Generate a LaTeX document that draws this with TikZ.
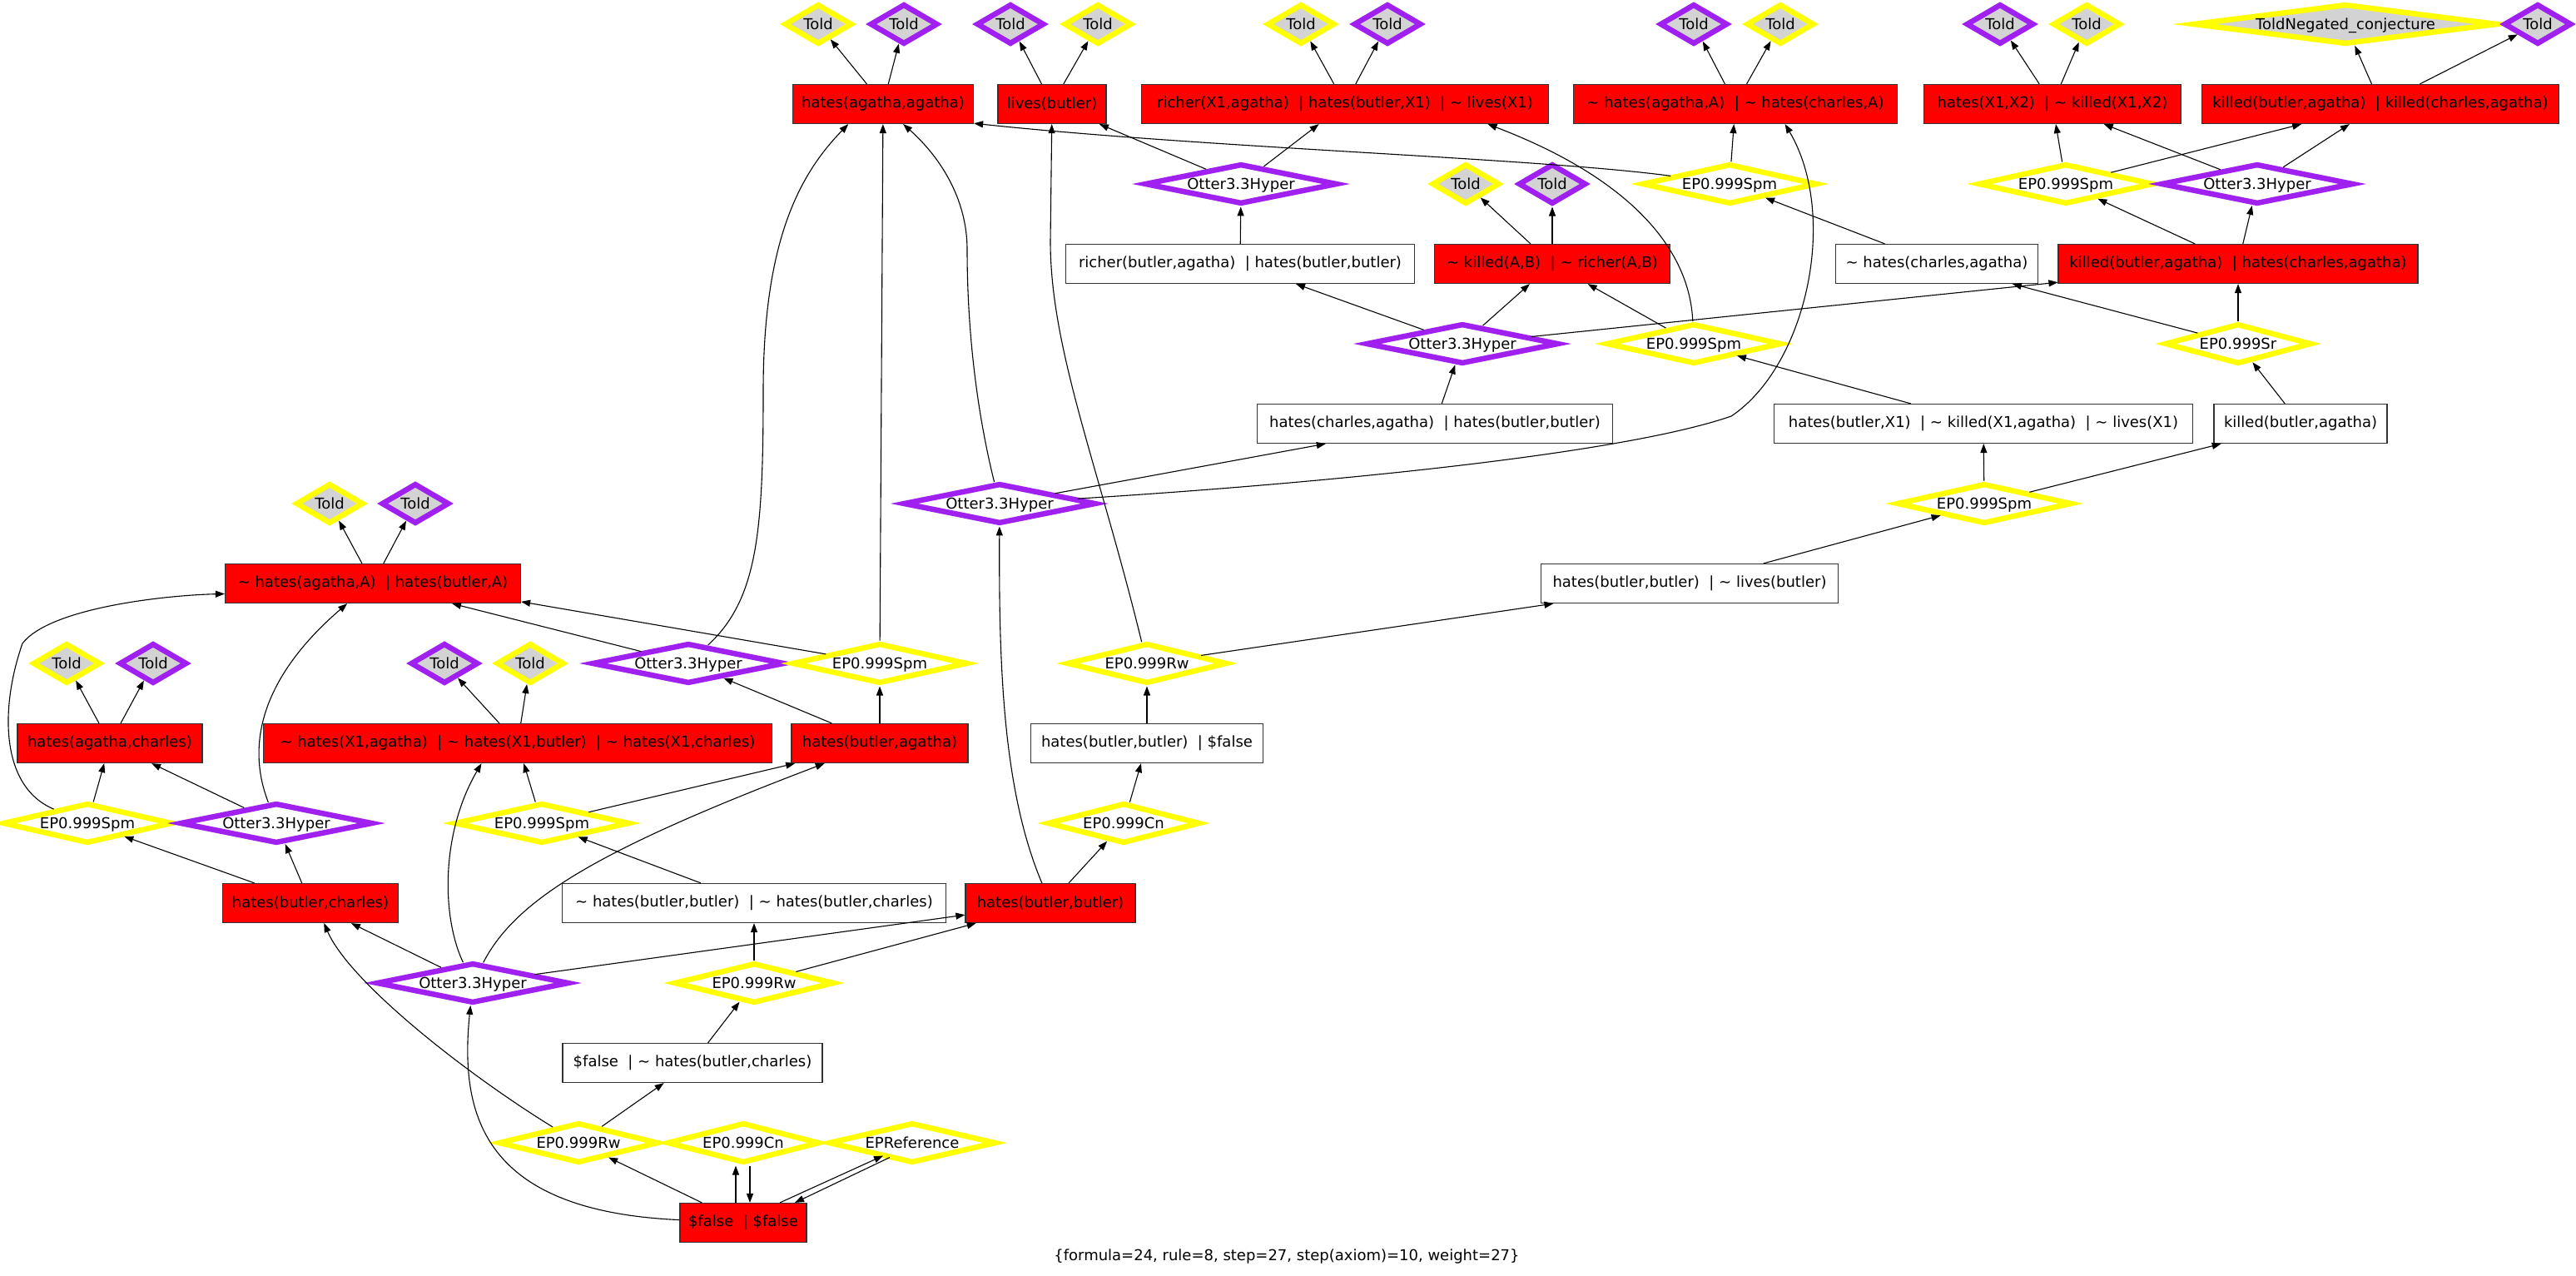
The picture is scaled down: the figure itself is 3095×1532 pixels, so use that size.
\documentclass[tikz,border=0pt]{standalone}
\usepackage{fontspec}
\setmainfont{DejaVu Sans}
\usetikzlibrary{shapes.geometric,arrows.meta}
\definecolor{gvred}{HTML}{FF0000}
\definecolor{gvyellow}{HTML}{FFFF00}
\definecolor{gvpurple}{HTML}{A020F0}
\definecolor{gvgray}{HTML}{D3D3D3}
\newcommand{\gvor}{\ \ |\ }
\newcommand{\gvnot}{\textasciitilde\ }
\newcommand{\dtext}[1]{\makebox[0pt]{\raisebox{-.36em}[0pt][0pt]{#1}}}
\begin{document}
\begin{tikzpicture}[x=1pt,y=-1pt,font=\fontsize{18}{21}\selectfont,
  box/.style={rectangle,draw=black!80,line width=1.2pt,minimum height=47pt,inner sep=0pt},
  rbox/.style={box,fill=gvred},
  wbox/.style={box,fill=white},
  dbase/.style={diamond,line width=6.5pt,minimum height=48.5pt,aspect=1,inner sep=0pt,fill=white},
  dY/.style={dbase,draw=gvyellow},
  dP/.style={dbase,draw=gvpurple},
  told/.style={fill=gvgray,minimum width=81.5pt},
  otter/.style={dP,minimum width=231.5pt},
  spm/.style={dY,minimum width=210.5pt},
  rw/.style={dY,minimum width=192.5pt},
  cn/.style={dY,minimum width=183.5pt},
  edge/.style={-{Triangle[length=11pt,width=8pt]},line width=1.1pt}
]
\useasboundingbox (0,0) rectangle (3095,1532);

% row 29
\node[dY,told] (T1) at (983,29) {\dtext{Told}};
\node[dP,told] (T2) at (1086,29) {\dtext{Told}};
\node[dP,told] (T3) at (1214,29) {\dtext{Told}};
\node[dY,told] (T4) at (1319,29) {\dtext{Told}};
\node[dY,told] (T5) at (1563,29) {\dtext{Told}};
\node[dP,told] (T6) at (1667,29) {\dtext{Told}};
\node[dP,told] (T7) at (2035,29) {\dtext{Told}};
\node[dY,told] (T8) at (2139,29) {\dtext{Told}};
\node[dP,told] (T9) at (2403,29) {\dtext{Told}};
\node[dY,told] (T10) at (2507,29) {\dtext{Told}};
\node[dY,fill=gvgray,minimum width=366pt] (TN) at (2818,29) {\dtext{ToldNegated\_conjecture}};
\node[dP,told] (T11) at (3049,29) {\dtext{Told}};

% row 125
\node[rbox,minimum width=217pt] (A1) at (1061,125) {hates(agatha,agatha)};
\node[rbox,minimum width=130pt] (A2) at (1264,125) {lives(butler)};
\node[rbox,minimum width=489pt] (A3) at (1616,125) {richer(X1,agatha)\gvor hates(butler,X1)\gvor\gvnot lives(X1)};
\node[rbox,minimum width=389pt] (A4) at (2085,125) {\gvnot hates(agatha,A)\gvor\gvnot hates(charles,A)};
\node[rbox,minimum width=309pt] (A5) at (2466,125) {hates(X1,X2)\gvor\gvnot killed(X1,X2)};
\node[rbox,minimum width=429pt] (A6) at (2860,125) {killed(butler,agatha)\gvor killed(charles,agatha)};

% row 221
\node[otter] (OA) at (1491,221) {\dtext{Otter3.3Hyper}};
\node[dY,told] (T12) at (1761,221) {\dtext{Told}};
\node[dP,told] (T13) at (1865,221) {\dtext{Told}};
\node[spm] (EC) at (2078,221) {\dtext{EP0.999Spm}};
\node[spm] (ED) at (2482,221) {\dtext{EP0.999Spm}};
\node[otter] (OE) at (2712,221) {\dtext{Otter3.3Hyper}};

% row 317
\node[wbox,minimum width=419pt] (B1) at (1490,317) {richer(butler,agatha)\gvor hates(butler,butler)};
\node[rbox,minimum width=283pt] (B2) at (1865,317) {\gvnot killed(A,B)\gvor\gvnot richer(A,B)};
\node[wbox,minimum width=243pt] (B3) at (2327,317) {\gvnot hates(charles,agatha)};
\node[rbox,minimum width=432pt] (B4) at (2689,317) {killed(butler,agatha)\gvor hates(charles,agatha)};

% row 413
\node[otter] (OB) at (1757,413) {\dtext{Otter3.3Hyper}};
\node[spm] (EF) at (2035,413) {\dtext{EP0.999Spm}};
\node[dY,minimum width=176.5pt] (ESr) at (2689,413) {\dtext{EP0.999Sr}};

% row 509
\node[wbox,minimum width=427pt] (C1) at (1724,509) {hates(charles,agatha)\gvor hates(butler,butler)};
\node[wbox,minimum width=503pt] (C2) at (2383,509) {hates(butler,X1)\gvor\gvnot killed(X1,agatha)\gvor\gvnot lives(X1)};
\node[wbox,minimum width=208pt] (C3) at (2764,509) {killed(butler,agatha)};

% row 605
\node[dY,told] (T14) at (396,605) {\dtext{Told}};
\node[dP,told] (T15) at (499,605) {\dtext{Told}};
\node[otter] (OG) at (1201,605) {\dtext{Otter3.3Hyper}};
\node[spm] (EK) at (2384,605) {\dtext{EP0.999Spm}};

% row 701
\node[rbox,minimum width=355pt] (D2) at (448,701) {\gvnot hates(agatha,A)\gvor hates(butler,A)};
\node[wbox,minimum width=357pt] (D1) at (2030,701) {hates(butler,butler)\gvor\gvnot lives(butler)};

% row 797
\node[dY,told] (T16) at (80,797) {\dtext{Told}};
\node[dP,told] (T17) at (184,797) {\dtext{Told}};
\node[dP,told] (T18) at (534,797) {\dtext{Told}};
\node[dY,told] (T19) at (637,797) {\dtext{Told}};
\node[otter] (OL) at (827,797) {\dtext{Otter3.3Hyper}};
\node[spm] (EH) at (1057,797) {\dtext{EP0.999Spm}};
\node[rw] (EI) at (1378,797) {\dtext{EP0.999Rw}};

% row 893
\node[rbox,minimum width=222pt] (D3) at (132,893) {hates(agatha,charles)};
\node[rbox,minimum width=611pt] (D4) at (622,893) {\gvnot hates(X1,agatha)\gvor\gvnot hates(X1,butler)\gvor\gvnot hates(X1,charles)};
\node[rbox,minimum width=212pt] (D5) at (1057,893) {hates(butler,agatha)};
\node[wbox,minimum width=279pt] (E1) at (1378,893) {hates(butler,butler)\gvor\$false};

% row 989
\node[dY,minimum width=203.5pt] (EM) at (105,989) {\dtext{EP0.999Spm}};
\node[otter] (ON) at (332,989) {\dtext{Otter3.3Hyper}};
\node[spm] (EO) at (651,989) {\dtext{EP0.999Spm}};
\node[cn] (EJ) at (1350,989) {\dtext{EP0.999Cn}};

% row 1085
\node[rbox,minimum width=211pt] (D6) at (373,1085) {hates(butler,charles)};
\node[wbox,minimum width=461pt] (D7) at (906,1085) {\gvnot hates(butler,butler)\gvor\gvnot hates(butler,charles)};
\node[rbox,minimum width=204pt] (F) at (1262,1085) {hates(butler,butler)};

% row 1181
\node[otter] (OP) at (568,1181) {\dtext{Otter3.3Hyper}};
\node[rw] (EQ) at (906,1181) {\dtext{EP0.999Rw}};

% row 1277
\node[wbox,minimum width=312pt] (G1) at (832,1277) {\$false\gvor\gvnot hates(butler,charles)};

% row 1373
\node[rw] (ER) at (695,1373) {\dtext{EP0.999Rw}};
\node[cn] (ES) at (893,1373) {\dtext{EP0.999Cn}};
\node[dY,minimum width=201.5pt] (ET) at (1096,1373) {\dtext{EPReference}};

% row 1469
\node[rbox,minimum width=152pt] (H1) at (893,1469) {\$false\gvor\$false};

\node (foot) at (1546,1510) {\{formula=24, rule=8, step=27, step(axiom)=10, weight=27\}};

% edges
\draw[edge] (A1) -- (T1);
\draw[edge] (A1) -- (T2);
\draw[edge] (A2) -- (T3);
\draw[edge] (A2) -- (T4);
\draw[edge] (A3) -- (T5);
\draw[edge] (A3) -- (T6);
\draw[edge] (A4) -- (T7);
\draw[edge] (A4) -- (T8);
\draw[edge] (A5) -- (T9);
\draw[edge] (A5) -- (T10);
\draw[edge] (A6) -- (TN);
\draw[edge] (A6) -- (T11);
\draw[edge] (OA) -- (A2);
\draw[edge] (OA) -- (A3);
\draw[edge] (B1) -- (OA);
\draw[edge] (B2) -- (T12);
\draw[edge] (B2) -- (T13);
\draw[edge] (EC) .. controls (1850,190) and (1450,178) .. (A1.-12);
\draw[edge] (EC) -- (A4);
\draw[edge] (B3) -- (EC);
\draw[edge] (ED) -- (A5);
\draw[edge] (ED) -- (A6);
\draw[edge] (OE) -- (A5);
\draw[edge] (OE) -- (A6);
\draw[edge] (B4) -- (ED);
\draw[edge] (B4) -- (OE);
\draw[edge] (OB) -- (B1);
\draw[edge] (OB) -- (B2);
\draw[edge] (OB) -- (B4);
\draw[edge] (EF) -- (B2);
\draw[edge] (EF) .. controls (2030,300) and (1960,215) .. (A3.-8);
\draw[edge] (ESr) -- (B4);
\draw[edge] (ESr) -- (B3);
\draw[edge] (C1) -- (OB);
\draw[edge] (C2) -- (EF);
\draw[edge] (C3) -- (ESr);
\draw[edge] (OG) -- (C1);
\draw[edge] (OG) .. controls (1600,580) and (1950,545) .. (2080,500) .. controls (2170,440) and (2210,260) .. (A4.-22);
\draw[edge] (OG) .. controls (1170,480) and (1162,380) .. (1162,300) .. controls (1162,230) and (1120,180) .. (A1.-45);
\draw[edge] (EK) -- (C2);
\draw[edge] (EK) -- (C3);
\draw[edge] (D1) -- (EK);
\draw[edge] (EI) -- (D1);
\draw[edge] (EI) .. controls (1320,560) and (1262,420) .. (1262,290) -- (A2);
\draw[edge] (E1) -- (EI);
\draw[edge] (EJ) -- (E1);
\draw[edge] (F) -- (EJ);
\draw[edge] (F) .. controls (1205,950) and (1200,800) .. (OG);
\draw[edge] (D2) -- (T14);
\draw[edge] (D2) -- (T15);
\draw[edge] (OL) -- (D2);
\draw[edge] (OL) .. controls (910,720) and (917,640) .. (917,470) .. controls (917,290) and (960,210) .. (A1.-150);
\draw[edge] (EH) -- (D2.-7);
\draw[edge] (EH) -- (A1);
\draw[edge] (D3) -- (T16);
\draw[edge] (D3) -- (T17);
\draw[edge] (D4) -- (T18);
\draw[edge] (D4) -- (T19);
\draw[edge] (D5) -- (OL);
\draw[edge] (D5) -- (EH);
\draw[edge] (EM) -- (D3);
\draw[edge] (EM) .. controls (0,945) and (0,850) .. (27,773) .. controls (60,730) and (200,715) .. (D2.-176);
\draw[edge] (ON) -- (D3);
\draw[edge] (ON) .. controls (290,880) and (330,800) .. (D2.-142);
\draw[edge] (EO) -- (D4);
\draw[edge] (EO) -- (D5);
\draw[edge] (D6) -- (EM);
\draw[edge] (D6) -- (ON);
\draw[edge] (D7) -- (EO);
\draw[edge] (OP) -- (D6);
\draw[edge] (OP) -- (F);
\draw[edge] (OP) .. controls (530,1100) and (530,1000) .. (D4.-151);
\draw[edge] (OP) .. controls (620,1080) and (720,1020) .. (D5.-160);
\draw[edge] (EQ) -- (D7);
\draw[edge] (EQ) -- (F);
\draw[edge] (G1) -- (EQ);
\draw[edge] (ER) -- (G1);
\draw[edge] (ER) .. controls (560,1290) and (420,1180) .. (D6.-56);
\draw[edge] (H1) -- (ER);
\draw[edge] ([xshift=-9pt]H1.north) -- ([xshift=-9pt]ES.south);
\draw[edge] ([xshift=8pt]ES.south) -- ([xshift=8pt]H1.north);
\draw[edge] ([xshift=44pt]H1.north) -- ([xshift=-35pt,yshift=12pt]ET.south);
\draw[edge] ([xshift=-27pt,yshift=10pt]ET.south) -- ([xshift=62pt]H1.north);
\draw[edge] (H1) .. controls (580,1455) and (552,1340) .. (OP);
\end{tikzpicture}
\end{document}
